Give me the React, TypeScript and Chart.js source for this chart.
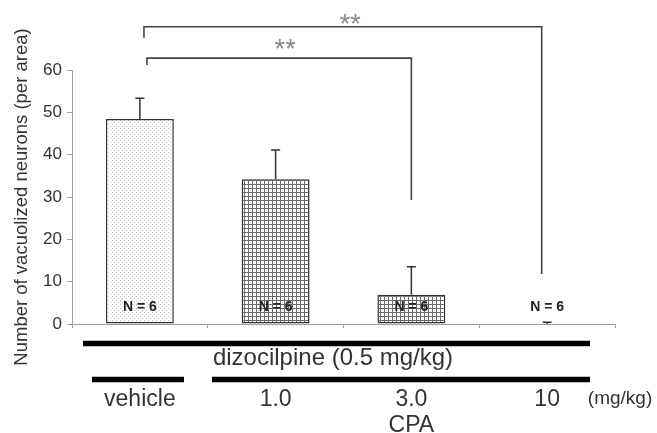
import React, { useEffect, useRef } from 'react';
import { Chart, registerables } from 'chart.js';

Chart.register(...registerables);

// ---- data ----
const categories = ['vehicle', '1.0', '3.0', '10'];
const means = [48.4, 34.2, 6.9, 0];
const errors = [4.9, 6.9, 6.6, 0.4];
const nLabels = ['N = 6', 'N = 6', 'N = 6', 'N = 6'];
const yMin = 0;
const yMax = 60;
const yStep = 10;
const yTitle = 'Number of vacuolized neurons (per area)';
// significance brackets: from category, to category, top level, left-foot level, right-foot level
const bracketFrom = [0, 0];
const bracketTo = [2, 3];
const bracketTop = [62.8, 70.2];
const bracketLeftEnd = [61.2, 67.6];
const bracketRightEnd = [29.3, 11.8];
const bracketMark = ['**', '**'];
const groupLabel = 'dizocilpine (0.5 mg/kg)';
const drugLabel = 'CPA';
const unitLabel = '(mg/kg)';

const FONT = '"Liberation Sans", Arial, sans-serif';
const TEXT = '#333';
const AXIS = '#a0a0a0';

function makeDots(): CanvasPattern | string {
  const c = document.createElement('canvas');
  c.width = 4; c.height = 4;
  const g = c.getContext('2d')!;
  g.fillStyle = '#fff'; g.fillRect(0, 0, 4, 4);
  g.fillStyle = '#c4c4c4';
  g.fillRect(0, 0, 1, 1);
  g.fillRect(2, 2, 1, 1);
  const ctx = document.createElement('canvas').getContext('2d')!;
  return ctx.createPattern(c, 'repeat') || '#eee';
}

function makeGrid(): CanvasPattern | string {
  const c = document.createElement('canvas');
  c.width = 4; c.height = 4;
  const g = c.getContext('2d')!;
  g.fillStyle = '#fff'; g.fillRect(0, 0, 4, 4);
  g.fillStyle = '#6a6a6a';
  g.fillRect(0, 0, 4, 1);
  g.fillRect(0, 0, 1, 4);
  const ctx = document.createElement('canvas').getContext('2d')!;
  return ctx.createPattern(c, 'repeat') || '#999';
}

const overlay = {
  id: 'overlay',
  afterDatasetsDraw(chart: any) {
    const { ctx } = chart;
    const x = chart.scales.x;
    const y = chart.scales.y;
    ctx.save();

    // error bars
    ctx.strokeStyle = '#333';
    ctx.lineWidth = 1.5;
    means.forEach((m, i) => {
      const cx = x.getPixelForValue(i);
      const base = y.getPixelForValue(m);
      const top = y.getPixelForValue(m + errors[i]);
      ctx.beginPath();
      ctx.moveTo(cx, base);
      ctx.lineTo(cx, top);
      ctx.moveTo(cx - 4.5, top);
      ctx.lineTo(cx + 4.5, top);
      ctx.stroke();
    });

    // N labels
    ctx.fillStyle = '#222';
    ctx.font = `bold 14px ${FONT}`;
    ctx.textAlign = 'center';
    ctx.textBaseline = 'middle';
    nLabels.forEach((t, i) => {
      ctx.fillText(t, x.getPixelForValue(i), y.getPixelForValue(4.1));
    });

    // brackets
    ctx.strokeStyle = '#444';
    ctx.lineWidth = 1.6;
    bracketFrom.forEach((f, k) => {
      const offL = k === 0 ? 0.052 : 0.03;
      const offR = k === 0 ? 0 : -0.04;
      const xl = x.getPixelForValue(f + offL);
      const xr = x.getPixelForValue(bracketTo[k] + offR);
      const yt = y.getPixelForValue(bracketTop[k]);
      ctx.beginPath();
      ctx.moveTo(xl, y.getPixelForValue(bracketLeftEnd[k]));
      ctx.lineTo(xl, yt);
      ctx.lineTo(xr, yt);
      ctx.lineTo(xr, y.getPixelForValue(bracketRightEnd[k]));
      ctx.stroke();
      // stars
      ctx.fillStyle = '#888';
      ctx.font = `27px ${FONT}`;
      ctx.textAlign = 'center';
      ctx.textBaseline = 'alphabetic';
      const mx = k === 0 ? x.getPixelForValue(1.07) : x.getPixelForValue(1.55);
      const off = k === 0 ? 0 : 6;
      ctx.fillText(bracketMark[k], mx, yt + off);
    });

    // bottom group lines
    ctx.strokeStyle = '#000';
    ctx.lineWidth = 5.5;
    ctx.lineCap = 'butt';
    const base = y.getPixelForValue(0);
    const l1 = base + 19.5;
    const l2 = base + 55.5;
    ctx.beginPath();
    ctx.moveTo(x.getPixelForValue(-0.419), l1);
    ctx.lineTo(x.getPixelForValue(3.316), l1);
    ctx.moveTo(x.getPixelForValue(-0.353), l2);
    ctx.lineTo(x.getPixelForValue(0.325), l2);
    ctx.moveTo(x.getPixelForValue(0.531), l2);
    ctx.lineTo(x.getPixelForValue(3.316), l2);
    ctx.stroke();

    ctx.fillStyle = TEXT;
    ctx.textBaseline = 'alphabetic';
    ctx.textAlign = 'left';
    ctx.font = `24px ${FONT}`;
    ctx.fillText(groupLabel, x.getPixelForValue(0.538), base + 41);
    ctx.textAlign = 'center';
    ctx.font = `23px ${FONT}`;
    ctx.fillText(drugLabel, x.getPixelForValue(2), base + 107.5);
    ctx.textAlign = 'left';
    ctx.font = `19px ${FONT}`;
    ctx.fillText(unitLabel, x.getPixelForValue(3.3), base + 80);

    ctx.restore();
  },
};

export default function App() {
  const ref = useRef<HTMLCanvasElement | null>(null);
  useEffect(() => {
    if (!ref.current) return;
    const dots = makeDots();
    const grid = makeGrid();
    const chart = new Chart(ref.current, {
      type: 'bar',
      data: {
        labels: categories,
        datasets: [
          {
            data: means,
            backgroundColor: [dots, grid, grid, grid] as any,
            borderColor: '#333',
            borderWidth: 1.5,
            borderSkipped: false,
            categoryPercentage: 1,
            barPercentage: 0.5,
          },
        ],
      },
      options: {
        responsive: false,
        animation: false,
        layout: { padding: { top: 70, right: 42, left: 0, bottom: 0 } },
        plugins: {
          legend: { display: false },
          tooltip: { enabled: false },
        },
        scales: {
          x: {
            grid: { drawOnChartArea: false, drawTicks: true, tickLength: 4, color: AXIS, offset: true },
            border: { display: true, color: AXIS, width: 1 },
            ticks: { color: TEXT, font: { family: FONT, size: 23 }, padding: 58, maxRotation: 0 },
            afterFit: (s: any) => { s.height = 109; },
          },
          y: {
            min: yMin,
            max: yMax,
            ticks: { stepSize: yStep, color: TEXT, font: { family: FONT, size: 17 }, padding: 5 },
            grid: { drawOnChartArea: false, drawTicks: true, tickLength: 5, color: AXIS },
            border: { display: true, color: AXIS, width: 1 },
            title: {
              display: true,
              text: yTitle,
              color: TEXT,
              font: { family: FONT, size: 18.5 },
              padding: { top: 11, bottom: 0 },
            },
            afterFit: (s: any) => { s.width = 72; },
          },
        },
      },
      plugins: [overlay],
    });
    return () => chart.destroy();
  }, []);
  return (
    <div style={{ position: 'fixed', left: 0, top: 0, width: 657, height: 433, background: '#fff' }}>
      <canvas ref={ref} width={657} height={433} />
    </div>
  );
}
